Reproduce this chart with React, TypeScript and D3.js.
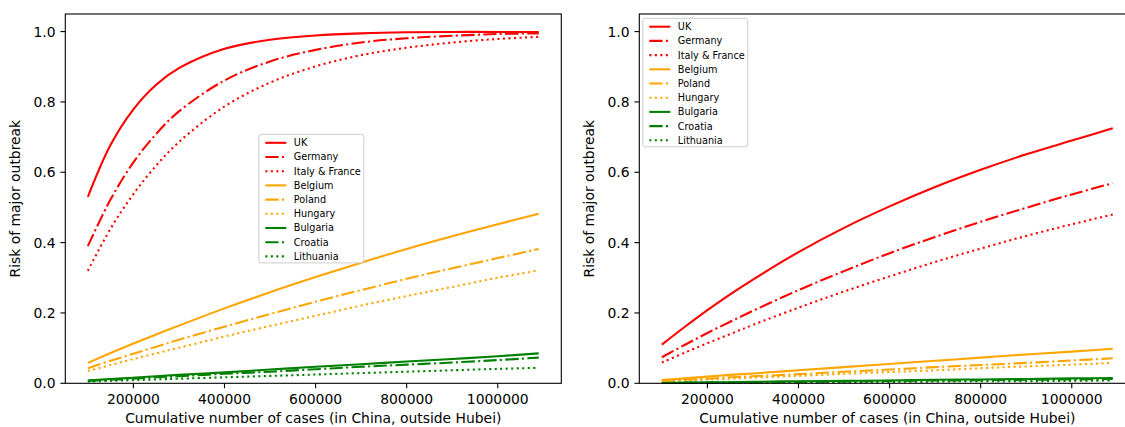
import * as d3 from "d3";

const casesX = [100000, 150000, 200000, 250000, 300000, 400000, 500000, 600000, 700000, 800000, 900000, 1000000, 1090000];

const countries = ["UK", "Germany", "Italy & France", "Belgium", "Poland", "Hungary", "Bulgaria", "Croatia", "Lithuania"];

// left panel
const leftUK = [0.530, 0.678, 0.779, 0.849, 0.896, 0.951, 0.977, 0.989, 0.995, 0.998, 0.999, 0.999, 0.999];
const leftGermany = [0.390, 0.523, 0.628, 0.709, 0.773, 0.861, 0.915, 0.948, 0.969, 0.981, 0.988, 0.993, 0.995];
const leftItalyFrance = [0.320, 0.440, 0.538, 0.619, 0.686, 0.787, 0.855, 0.901, 0.933, 0.954, 0.969, 0.979, 0.985];
const leftBelgium = [0.058, 0.086, 0.113, 0.139, 0.164, 0.213, 0.259, 0.302, 0.343, 0.382, 0.418, 0.452, 0.482];
const leftPoland = [0.043, 0.064, 0.084, 0.104, 0.124, 0.161, 0.197, 0.232, 0.265, 0.297, 0.327, 0.356, 0.382];
const leftHungary = [0.035, 0.052, 0.069, 0.085, 0.101, 0.133, 0.163, 0.192, 0.221, 0.248, 0.274, 0.300, 0.321];
const leftBulgaria = [0.008, 0.012, 0.016, 0.020, 0.024, 0.031, 0.039, 0.047, 0.054, 0.062, 0.069, 0.077, 0.085];
const leftCroatia = [0.007, 0.010, 0.013, 0.017, 0.020, 0.027, 0.033, 0.040, 0.047, 0.053, 0.059, 0.066, 0.073];
const leftLithuania = [0.005, 0.007, 0.009, 0.011, 0.013, 0.017, 0.021, 0.025, 0.029, 0.033, 0.037, 0.041, 0.044];

// right panel
const rightUK = [0.110, 0.160, 0.208, 0.253, 0.295, 0.373, 0.442, 0.503, 0.558, 0.607, 0.651, 0.690, 0.725];
const rightGermany = [0.074, 0.109, 0.143, 0.175, 0.206, 0.265, 0.319, 0.370, 0.416, 0.459, 0.499, 0.537, 0.569];
const rightItalyFrance = [0.059, 0.087, 0.114, 0.140, 0.166, 0.215, 0.261, 0.304, 0.345, 0.383, 0.419, 0.452, 0.480];
const rightBelgium = [0.009, 0.014, 0.019, 0.024, 0.028, 0.037, 0.046, 0.055, 0.064, 0.073, 0.082, 0.090, 0.098];
const rightPoland = [0.007, 0.010, 0.013, 0.017, 0.020, 0.026, 0.033, 0.039, 0.046, 0.052, 0.058, 0.065, 0.071];
const rightHungary = [0.005, 0.008, 0.011, 0.013, 0.016, 0.021, 0.027, 0.032, 0.037, 0.043, 0.048, 0.053, 0.058];
const rightBulgaria = [0.001, 0.002, 0.003, 0.003, 0.004, 0.006, 0.007, 0.008, 0.010, 0.011, 0.012, 0.014, 0.015];
const rightCroatia = [0.001, 0.002, 0.002, 0.003, 0.003, 0.004, 0.005, 0.007, 0.008, 0.009, 0.010, 0.011, 0.012];
const rightLithuania = [0.001, 0.001, 0.001, 0.002, 0.002, 0.003, 0.003, 0.004, 0.005, 0.006, 0.006, 0.007, 0.008];

const leftSeries = [leftUK, leftGermany, leftItalyFrance, leftBelgium, leftPoland, leftHungary, leftBulgaria, leftCroatia, leftLithuania];
const rightSeries = [rightUK, rightGermany, rightItalyFrance, rightBelgium, rightPoland, rightHungary, rightBulgaria, rightCroatia, rightLithuania];

// styling: colour by group, dash by position in group
const colors = ["red", "red", "red", "orange", "orange", "orange", "green", "green", "green"];
const dashes = [null, "13.3 3.3 2.1 3.3", "2.1 3.4"];

const FONT = "DejaVu Sans, sans-serif";
const W = 1125;
const H = 427;
const TOP = 14;
const BOTTOM = 383.3;
const AX_W = 496;
const LW = 2.08;

type PanelProps = {
  left: number;
  series: number[][];
  legendLoc: "center" | "upper left";
};

function Panel({ left, series, legendLoc }: PanelProps) {
  const x = d3.scaleLinear().domain([50500, 1139500]).range([left, left + AX_W]);
  const y = d3.scaleLinear().domain([0, 1.05]).range([BOTTOM, TOP]);

  const line = d3
    .line<number>()
    .x((_, i) => x(casesX[i]))
    .y((d) => y(d))
    .curve(d3.curveCatmullRom.alpha(0.5));

  const xTicks = x.ticks(5);
  const yTicks = y.ticks(5);
  const fmtX = d3.format("d");
  const fmtY = d3.format(".1f");

  // legend geometry (matplotlib-ish, fontsize ~9.7px)
  const rowH = 14.2;
  const legW = 105;
  const legH = 128.5;
  let legX: number, legY: number;
  if (legendLoc === "center") {
    legX = left + AX_W / 2 - legW / 2 - 2;
    legY = (TOP + BOTTOM) / 2 - legH / 2;
  } else {
    legX = left + 3.5;
    legY = TOP + 4.3;
  }

  return (
    <g>
      {/* lines */}
      {series.map((vals, i) => (
        <path
          key={countries[i]}
          d={line(vals) || ""}
          fill="none"
          stroke={colors[i]}
          strokeWidth={LW}
          strokeDasharray={dashes[i % 3] || undefined}
        />
      ))}

      {/* spines */}
      <rect x={left} y={TOP} width={AX_W} height={BOTTOM - TOP} fill="none" stroke="#000" strokeWidth={1.1} />

      {/* x ticks */}
      {xTicks.map((t) => (
        <g key={t}>
          <line x1={x(t)} x2={x(t)} y1={BOTTOM} y2={BOTTOM + 4.9} stroke="#000" strokeWidth={1.1} />
          <text x={x(t)} y={BOTTOM + 9.8} dy="0.76em" textAnchor="middle" fontSize={13.9} fontFamily={FONT}>
            {fmtX(t)}
          </text>
        </g>
      ))}

      {/* y ticks */}
      {yTicks.map((t) => (
        <g key={t}>
          <line x1={left - 4.9} x2={left} y1={y(t)} y2={y(t)} stroke="#000" strokeWidth={1.1} />
          <text x={left - 9.8} y={y(t)} dy="0.36em" textAnchor="end" fontSize={13.9} fontFamily={FONT}>
            {fmtY(t)}
          </text>
        </g>
      ))}

      {/* axis labels */}
      <text x={left + AX_W / 2} y={423} textAnchor="middle" fontSize={13.9} fontFamily={FONT}>
        Cumulative number of cases (in China, outside Hubei)
      </text>
      <text
        transform={`translate(${left - 45},${(TOP + BOTTOM) / 2}) rotate(-90)`}
        textAnchor="middle"
        fontSize={13.9}
        fontFamily={FONT}
      >
        Risk of major outbreak
      </text>

      {/* legend */}
      <g transform={`translate(${legX},${legY})`}>
        <rect width={legW} height={legH} rx={2.5} fill="#fff" fillOpacity={0.8} stroke="#cccccc" strokeWidth={1} />
        {countries.map((c, i) => {
          const cy = 8.4 + i * rowH;
          return (
            <g key={c}>
              <line
                x1={6.5}
                x2={27.5}
                y1={cy}
                y2={cy}
                stroke={colors[i]}
                strokeWidth={LW}
                strokeDasharray={dashes[i % 3] || undefined}
              />
              <text x={35} y={cy} dy="0.36em" fontSize={9.7} fontFamily={FONT}>
                {c}
              </text>
            </g>
          );
        })}
      </g>
    </g>
  );
}

export default function App() {
  return (
    <div style={{ position: "fixed", left: 0, top: 0, width: W, height: H, background: "#fff" }}>
      <svg width={W} height={H} style={{ display: "block" }}>
        <rect width={W} height={H} fill="#fff" />
        <Panel left={65.3} series={leftSeries} legendLoc="center" />
        <Panel left={639.3} series={rightSeries} legendLoc="upper left" />
      </svg>
    </div>
  );
}
